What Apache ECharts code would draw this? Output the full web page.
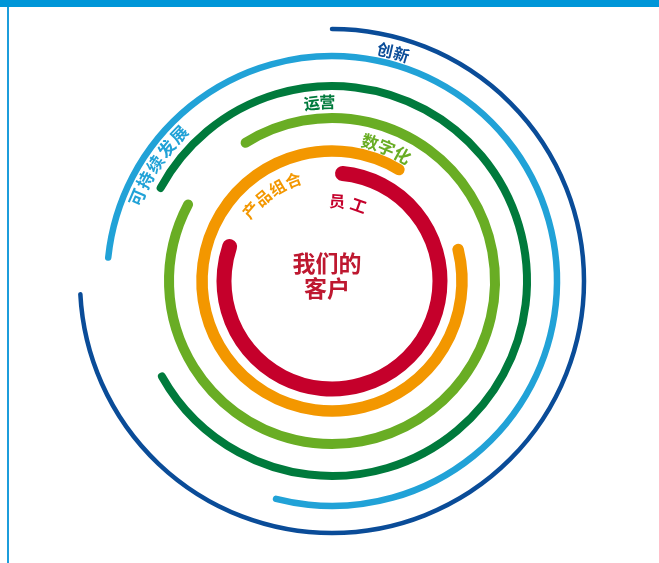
<!DOCTYPE html>
<html>
<head>
<meta charset="utf-8">
<script src="https://cdn.jsdelivr.net/npm/echarts@6/dist/echarts.min.js"></script>
<style>
html,body{margin:0;padding:0;background:#fff;}
#chart{width:659px;height:563px;}
</style>
</head>
<body>
<div id="chart"></div>
<script>
// ---- data ----
const rings = ['员工', '产品组合', '数字化', '运营', '可持续发展', '创新'];
const ringRadius = [108, 130, 163, 195, 225, 252];
const arcStart = [5.6, 76, 328, 298.5, 276, 0];
const arcEnd = [288.6, 391, 658, 600.7, 554.4, 267];
const labelRadius = [80, 108, 144, 179, 212, 237];
const labelAngle = [11.5, 325, 22.3, 356, 303.5, 15];
const centerLines = ['我们的', '客户'];

// ---- styles ----
const ringColors = ['#c5002b', '#f39700', '#69ad24', '#007a3c', '#21a2d7', '#0a4c98'];
const ringWidths = [15, 11.5, 10, 8, 6.5, 4.5];
const labelStep = [22, 17.5, 17.5, 15.5, 19, 17];   // px per character along arc
const labelSize = [16, 16, 17, 16, 17, 16];
const FONT = '"Noto Sans CJK SC", "Noto Sans", sans-serif';

const chart = echarts.init(document.getElementById('chart'), null, {renderer: 'canvas'});

function screenAngle(p, cs) { return Math.atan2(p[1] - cs.cy, p[0] - cs.cx); }

const arcData = rings.map((n, i) => [ringRadius[i], arcStart[i], arcEnd[i]]);
const labelData = rings.map((n, i) => [labelRadius[i], labelAngle[i]]);

chart.setOption({
  animation: false,
  backgroundColor: '#fff',
  polar: {center: [332, 281], radius: [0, 260]},
  angleAxis: {type: 'value', min: 0, max: 360, startAngle: 90, clockwise: true, show: false},
  radiusAxis: {type: 'value', min: 0, max: 260, show: false},
  graphic: [
    {type: 'rect', left: 0, top: 0, shape: {width: 659, height: 7}, style: {fill: '#0096d8'}},
    {type: 'rect', left: 7, top: 7, shape: {width: 2, height: 556}, style: {fill: '#1c9ddb'}}
  ],
  series: [
    {
      type: 'custom',
      coordinateSystem: 'polar',
      data: arcData,
      encode: {radius: 0, angle: 1},
      renderItem: function (params, api) {
        const i = params.dataIndex;
        const cs = params.coordSys;
        const r = api.value(0), a0 = api.value(1), a1 = api.value(2);
        const p0 = api.coord([r, a0 % 360]);
        const p1 = api.coord([r, a1 % 360]);
        const R = Math.hypot(p0[0] - cs.cx, p0[1] - cs.cy);
        const t0 = screenAngle(p0, cs);
        let t1 = screenAngle(p1, cs);
        while (t1 <= t0) t1 += Math.PI * 2;
        return {
          type: 'arc',
          shape: {cx: cs.cx, cy: cs.cy, r: R, startAngle: t0, endAngle: t1, clockwise: true},
          style: {stroke: ringColors[i], lineWidth: ringWidths[i], lineCap: 'round', fill: null}
        };
      }
    },
    {
      type: 'custom',
      coordinateSystem: 'polar',
      data: labelData,
      encode: {radius: 0, angle: 1},
      renderItem: function (params, api) {
        const i = params.dataIndex;
        const cs = params.coordSys;
        const r = api.value(0), a = api.value(1);
        const pc = api.coord([r, a]);
        const R = Math.hypot(pc[0] - cs.cx, pc[1] - cs.cy);
        const chars = Array.from(rings[i]);
        const n = chars.length;
        const stepDeg = labelStep[i] / R * 180 / Math.PI;
        const children = chars.map((ch, k) => {
          const ak = a + (k - (n - 1) / 2) * stepDeg;
          const p = api.coord([r, ((ak % 360) + 360) % 360]);
          const t = screenAngle(p, cs);
          return {
            type: 'text',
            x: p[0], y: p[1],
            rotation: -(t + Math.PI / 2),
            style: {
              text: ch, fill: ringColors[i],
              font: 'bold ' + labelSize[i] + 'px ' + FONT,
              align: 'center', verticalAlign: 'middle'
            }
          };
        });
        return {type: 'group', children: children};
      }
    },
    {
      type: 'custom',
      coordinateSystem: 'polar',
      data: [[0, 0]],
      encode: {radius: 0, angle: 1},
      renderItem: function (params, api) {
        const p = api.coord([0, 0]);
        return {
          type: 'text',
          x: p[0] - 5, y: p[1] - 5.5,
          style: {
            text: centerLines.join('\n'), fill: '#be1830',
            font: 'bold 23px ' + FONT, lineHeight: 25,
            align: 'center', verticalAlign: 'middle'
          }
        };
      }
    }
  ]
});
</script>
</body>
</html>
